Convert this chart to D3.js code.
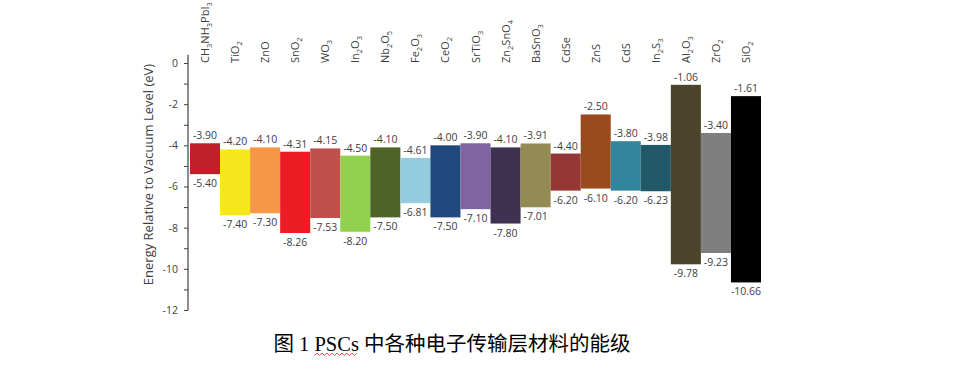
<!DOCTYPE html>
<html>
<head>
<meta charset="utf-8">
<script src="https://cdn.jsdelivr.net/npm/d3@7"></script>
<style>
  body { margin: 0; background: #fff; }
  svg { display: block; }
  .tick text { font-family: "Open Sans", sans-serif; font-size: 10.5px; fill: #404040; }
  .val { font-family: "Open Sans", sans-serif; font-size: 10.5px; fill: #404040; }
  .cat { font-family: "Open Sans", sans-serif; font-size: 11px; fill: #404040; }
</style>
</head>
<body>
<svg width="970" height="380"></svg>
<script>
var materials = ["CH3NH3PbI3","TiO2","ZnO","SnO2","WO3","In2O3","Nb2O5","Fe2O3","CeO2","SrTiO3",
                 "Zn2SnO4","BaSnO3","CdSe","ZnS","CdS","In2S3","Al2O3","ZrO2","SiO2"]
// conduction band (top of bar) and valence band (bottom of bar), eV
var cbm = [-3.90,-4.20,-4.10,-4.31,-4.15,-4.50,-4.10,-4.61,-4.00,-3.90,
           -4.10,-3.91,-4.40,-2.50,-3.80,-3.98,-1.06,-3.40,-1.61]
var vbm = [-5.40,-7.40,-7.30,-8.26,-7.53,-8.20,-7.50,-6.81,-7.50,-7.10,
           -7.80,-7.01,-6.20,-6.10,-6.20,-6.23,-9.78,-9.23,-10.66]
var yTicks = [0,-1,-2,-3,-4,-5,-6,-7,-8,-9,-10,-11,-12]
var yTitle = "Energy Relative to Vacuum Level (eV)"
var caption = ["图 1 ", "PSCs", " 中各种电子传输层材料的能级"]

var palette = ["#c0202a","#f5e71c","#f79646","#ed1c24","#c0504d","#92d050","#4f6228","#93cddd",
               "#1f497d","#8064a2","#3f3151","#948a54","#953735","#9a4a1e","#31859c","#215968",
               "#4a452a","#7f7f7f","#000000"]

var svg = d3.select("svg")

var x = d3.scaleBand().domain(materials).range([190, 761]).padding(0)
var y = d3.scaleLinear().domain([-12, 0]).range([310, 63])

var rows = materials.map((m,i)=>({name:m, top:cbm[i], bot:vbm[i], color:palette[i]}))

// y axis
var yAxis = svg.append("g")
  .attr("transform","translate(188,0)")
  .call(d3.axisLeft(y).tickValues(yTicks).tickSize(4).tickPadding(6)
        .tickFormat(d => d % 2 === 0 ? d : ""))
yAxis.select(".domain").remove()
yAxis.selectAll(".tick line").attr("stroke","#404040")
yAxis.append("line")
  .attr("x1",0).attr("x2",0)
  .attr("y1",y(0.4)).attr("y2",y(-12))
  .attr("stroke","#404040").attr("stroke-width",1.2)

svg.append("text")
  .attr("transform",`translate(153,${(y(0)+y(-12))/2 - 12}) rotate(-90)`)
  .attr("text-anchor","middle")
  .style("font-family","'Open Sans', sans-serif")
  .style("font-size","13px")
  .style("fill","#404040")
  .text(yTitle)

// bars
svg.selectAll("rect.bar")
  .data(rows)
  .enter().append("rect")
  .attr("class","bar")
  .attr("x", d => x(d.name))
  .attr("width", x.bandwidth())
  .attr("y", d => y(d.top))
  .attr("height", d => y(d.bot) - y(d.top))
  .attr("fill", d => d.color)

// value labels
svg.selectAll("text.top")
  .data(rows)
  .enter().append("text")
  .attr("class","val top")
  .attr("x", d => x(d.name) + x.bandwidth()/2)
  .attr("y", d => y(d.top) - 4)
  .attr("text-anchor","middle")
  .text(d => d.top.toFixed(2))

svg.selectAll("text.bot")
  .data(rows)
  .enter().append("text")
  .attr("class","val bot")
  .attr("x", d => x(d.name) + x.bandwidth()/2)
  .attr("y", d => y(d.bot) + 13)
  .attr("text-anchor","middle")
  .text(d => d.bot.toFixed(2))

// category labels with subscripts
rows.forEach(function(d){
  var t = svg.append("text")
    .attr("class","cat")
    .attr("transform",`translate(${x(d.name) + x.bandwidth()/2 + 4},63) rotate(-90)`)
  var parts = d.name.match(/(\d+|\D+)/g)
  var shifted = false
  parts.forEach(function(p){
    var sub = /\d/.test(p)
    var ts = t.append("tspan").text(p)
    if (sub) {
      ts.style("font-size","7.5px").attr("dy", 3)
      shifted = true
    } else if (shifted) {
      ts.attr("dy", -3)
      shifted = false
    }
  })
})

// caption
var cap = svg.append("text")
  .attr("x", 452).attr("y", 351)
  .attr("text-anchor","middle")
  .style("font-family","'Liberation Serif', 'Noto Sans CJK SC', serif")
  .style("font-size","20.5px")
  .style("fill","#000")
var capParts = cap.selectAll("tspan").data(caption).enter().append("tspan").text(d => d)

// spell-check squiggle under "PSCs"
var bb = capParts.nodes()[1].getBBox()
var pts = d3.range(bb.x, bb.x + bb.width, 2.5).map((px,i)=>[px, 353 + (i % 2 ? 0 : 2.5)])
svg.append("path")
  .attr("d", d3.line()(pts))
  .attr("fill","none")
  .attr("stroke","#e02020")
  .attr("stroke-width",0.8)
</script>
</body>
</html>
